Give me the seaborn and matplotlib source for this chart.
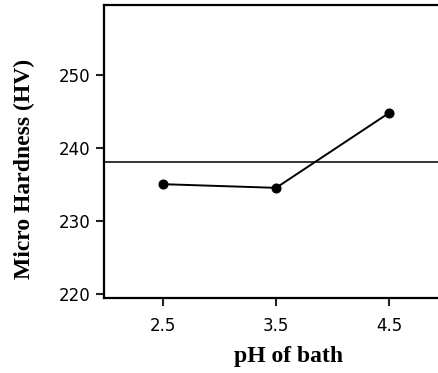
import matplotlib
matplotlib.use("Agg")
import matplotlib.pyplot as plt
import pandas as pd
import seaborn as sns

# values
ph_levels = [2.5, 3.5, 4.5]
hardness_means = [235.05, 234.55, 244.8]
grand_mean = 238.08
y_ticks = [220, 230, 240, 250]

df = pd.DataFrame({'ph': ph_levels, 'hv': hardness_means})

sns.set_style('ticks')
plt.rcParams['font.family'] = ['DejaVu Sans']

fig = plt.figure(figsize=(4.38, 3.73), dpi=100)
ax = fig.add_axes([0.2374, 0.2019, 0.7626, 0.7847])

ax.axhline(grand_mean, color='#333333', lw=1.4, zorder=1)
sns.lineplot(data=df, x='ph', y='hv', ax=ax, color='black', lw=1.4,
             marker='o', markersize=6.5, markeredgecolor='black', zorder=3)

ax.set_xlim(1.975, 4.935)
ax.set_ylim(219.5, 259.6)
ax.set_xticks(ph_levels)
ax.set_xticklabels([str(v) for v in ph_levels])
ax.set_yticks(y_ticks)

for s in ['left', 'bottom', 'top']:
    ax.spines[s].set_linewidth(1.6)
    ax.spines[s].set_color('black')
ax.spines['right'].set_visible(False)
ax.tick_params(axis='both', direction='out', length=6, width=1.5,
               labelsize=12, colors='#222222', labelcolor='black')
ax.tick_params(axis='x', pad=8)

serif = dict(family='Liberation Serif', weight='bold', size=17, color='black')
ax.set_xlabel('pH of bath', fontdict=serif)
ax.set_ylabel('Micro Hardness (HV)', fontdict=serif)
ax.xaxis.set_label_coords(0.554, -0.166)
ax.yaxis.set_label_coords(-0.207, 0.44)

fig.savefig('out.png', dpi=100)
